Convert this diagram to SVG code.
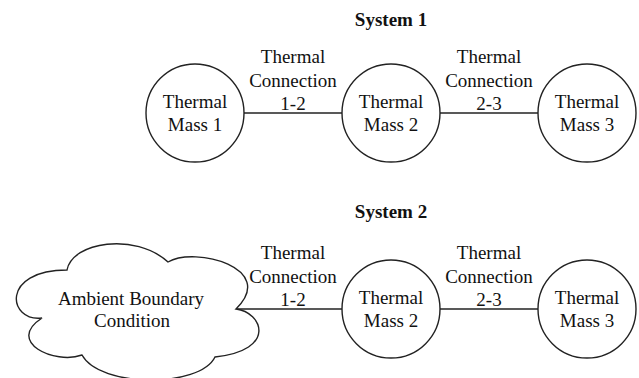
<svg xmlns="http://www.w3.org/2000/svg" width="639" height="378" viewBox="0 0 639 378" font-family="'Liberation Serif', 'Times New Roman', Tinos, serif">
  <style>
    .shape { fill: #ffffff; stroke: #222222; stroke-width: 1.4; }
    .wire { stroke: #222222; stroke-width: 1.4; fill: none; }
    text { font-family: 'Liberation Serif', 'Times New Roman', Tinos, serif; font-size: 19px; fill: #111111; text-anchor: middle; }
    .title { font-weight: bold; }
  </style>
  <rect width="639" height="378" fill="#ffffff"/>

  <!-- System 1 -->
  <text class="title" x="391" y="26">System 1</text>

  <g id="s1-connectors">
    <line class="wire" x1="244" y1="113" x2="342" y2="113"/>
    <line class="wire" x1="440" y1="113" x2="538" y2="113"/>
  </g>

  <g id="s1-conn12-label">
    <text x="293" y="63">Thermal</text>
    <text x="293" y="87">Connection</text>
    <text x="293" y="110">1-2</text>
  </g>
  <g id="s1-conn23-label">
    <text x="489" y="63">Thermal</text>
    <text x="489" y="87">Connection</text>
    <text x="489" y="110">2-3</text>
  </g>

  <g id="s1-mass1">
    <circle class="shape" cx="195" cy="113" r="49"/>
    <text x="195" y="108">Thermal</text>
    <text x="195" y="131">Mass 1</text>
  </g>
  <g id="s1-mass2">
    <circle class="shape" cx="391" cy="113" r="49"/>
    <text x="391" y="108">Thermal</text>
    <text x="391" y="131">Mass 2</text>
  </g>
  <g id="s1-mass3">
    <circle class="shape" cx="587" cy="113" r="49"/>
    <text x="587" y="108">Thermal</text>
    <text x="587" y="131">Mass 3</text>
  </g>

  <!-- System 2 -->
  <text class="title" x="391" y="218">System 2</text>

  <g id="s2-connectors">
    <line class="wire" x1="236" y1="309" x2="342" y2="309"/>
    <line class="wire" x1="440" y1="309" x2="538" y2="309"/>
  </g>

  <g id="s2-conn12-label">
    <text x="293" y="259">Thermal</text>
    <text x="293" y="283">Connection</text>
    <text x="293" y="306">1-2</text>
  </g>
  <g id="s2-conn23-label">
    <text x="489" y="259">Thermal</text>
    <text x="489" y="283">Connection</text>
    <text x="489" y="306">2-3</text>
  </g>

  <g id="s2-ambient">
    <path class="shape" d="M 67,270
      C 72,242 135,232 168,262
      C 195,246 278,268 236,309
      C 262,312 278,350 215,357
      C 200,388 100,388 82,355
      C 55,365 5,342 42,318
      C 8,322 0,270 67,270 Z"/>
    <text x="131" y="305">Ambient Boundary</text>
    <text x="132" y="327">Condition</text>
  </g>
  <g id="s2-mass2">
    <circle class="shape" cx="391" cy="309" r="49"/>
    <text x="391" y="304">Thermal</text>
    <text x="391" y="327">Mass 2</text>
  </g>
  <g id="s2-mass3">
    <circle class="shape" cx="587" cy="309" r="49"/>
    <text x="587" y="304">Thermal</text>
    <text x="587" y="327">Mass 3</text>
  </g>
</svg>
